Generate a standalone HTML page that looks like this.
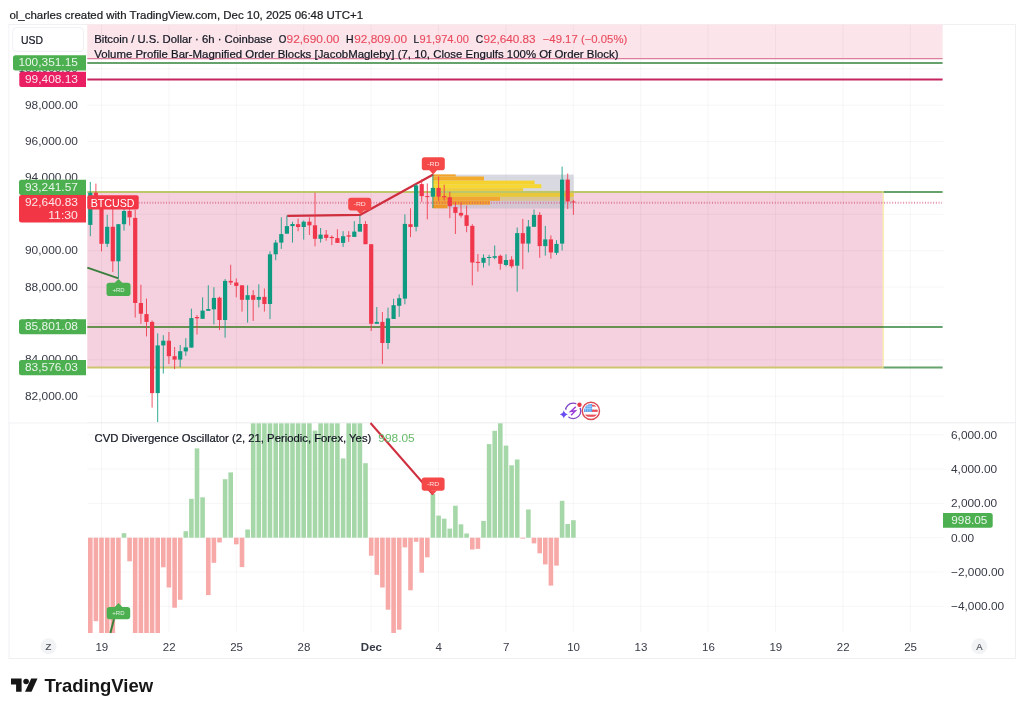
<!DOCTYPE html>
<html lang="en"><head><meta charset="utf-8"><title>BTCUSD chart</title>
<style>
html,body{margin:0;padding:0;background:#fff;overflow:hidden}
svg{display:block}
text{font-family:"Liberation Sans",sans-serif;font-size:11.5px;fill:#131722;stroke:#131722;stroke-width:.22px}
.ax{fill:#363a45;stroke:none}
.w{fill:#fff;stroke:none}
.r{fill:#e94a5d;stroke:#e94a5d;stroke-width:.12px}
</style></head><body>
<svg width="1024" height="713" viewBox="0 0 1024 713">
<rect width="1024" height="713" fill="#fff"/>
<text x="9.4" y="18.5" textLength="353.8" lengthAdjust="spacingAndGlyphs" style="fill:#1e1e1e">ol_charles created with TradingView.com, Dec 10, 2025 06:48 UTC+1</text>
<rect x="9" y="24.5" width="1006.5" height="634" fill="#fff" stroke="#f0f0f3" stroke-width="1"/>
<g id="main">
<rect x="87.3" y="24.5" width="855.3" height="34.2" fill="#fbe4ea"/>
<rect x="87.3" y="192" width="795.5" height="175.5" fill="#f5d0de"/>
<line x1="101.5" y1="25" x2="101.5" y2="632.5" stroke="rgba(42,46,57,0.045)" stroke-width="1"/>
<line x1="168.9" y1="25" x2="168.9" y2="632.5" stroke="rgba(42,46,57,0.045)" stroke-width="1"/>
<line x1="236.3" y1="25" x2="236.3" y2="632.5" stroke="rgba(42,46,57,0.045)" stroke-width="1"/>
<line x1="303.7" y1="25" x2="303.7" y2="632.5" stroke="rgba(42,46,57,0.045)" stroke-width="1"/>
<line x1="371.1" y1="25" x2="371.1" y2="632.5" stroke="rgba(42,46,57,0.045)" stroke-width="1"/>
<line x1="438.5" y1="25" x2="438.5" y2="632.5" stroke="rgba(42,46,57,0.045)" stroke-width="1"/>
<line x1="505.9" y1="25" x2="505.9" y2="632.5" stroke="rgba(42,46,57,0.045)" stroke-width="1"/>
<line x1="573.3" y1="25" x2="573.3" y2="632.5" stroke="rgba(42,46,57,0.045)" stroke-width="1"/>
<line x1="640.7" y1="25" x2="640.7" y2="632.5" stroke="rgba(42,46,57,0.045)" stroke-width="1"/>
<line x1="708.1" y1="25" x2="708.1" y2="632.5" stroke="rgba(42,46,57,0.045)" stroke-width="1"/>
<line x1="775.5" y1="25" x2="775.5" y2="632.5" stroke="rgba(42,46,57,0.045)" stroke-width="1"/>
<line x1="842.9" y1="25" x2="842.9" y2="632.5" stroke="rgba(42,46,57,0.045)" stroke-width="1"/>
<line x1="910.3" y1="25" x2="910.3" y2="632.5" stroke="rgba(42,46,57,0.045)" stroke-width="1"/>
<line x1="87.3" y1="396.2" x2="943.5" y2="396.2" stroke="rgba(42,46,57,0.045)" stroke-width="1"/>
<line x1="87.3" y1="359.8" x2="943.5" y2="359.8" stroke="rgba(42,46,57,0.045)" stroke-width="1"/>
<line x1="87.3" y1="323.4" x2="943.5" y2="323.4" stroke="rgba(42,46,57,0.045)" stroke-width="1"/>
<line x1="87.3" y1="287.1" x2="943.5" y2="287.1" stroke="rgba(42,46,57,0.045)" stroke-width="1"/>
<line x1="87.3" y1="250.7" x2="943.5" y2="250.7" stroke="rgba(42,46,57,0.045)" stroke-width="1"/>
<line x1="87.3" y1="214.3" x2="943.5" y2="214.3" stroke="rgba(42,46,57,0.045)" stroke-width="1"/>
<line x1="87.3" y1="177.9" x2="943.5" y2="177.9" stroke="rgba(42,46,57,0.045)" stroke-width="1"/>
<line x1="87.3" y1="141.6" x2="943.5" y2="141.6" stroke="rgba(42,46,57,0.045)" stroke-width="1"/>
<line x1="87.3" y1="105.2" x2="943.5" y2="105.2" stroke="rgba(42,46,57,0.045)" stroke-width="1"/>
<line x1="87.3" y1="68.8" x2="943.5" y2="68.8" stroke="rgba(42,46,57,0.045)" stroke-width="1"/>
<line x1="87.3" y1="434.8" x2="943.5" y2="434.8" stroke="rgba(42,46,57,0.045)" stroke-width="1"/>
<line x1="87.3" y1="469.1" x2="943.5" y2="469.1" stroke="rgba(42,46,57,0.045)" stroke-width="1"/>
<line x1="87.3" y1="503.4" x2="943.5" y2="503.4" stroke="rgba(42,46,57,0.045)" stroke-width="1"/>
<line x1="87.3" y1="537.7" x2="943.5" y2="537.7" stroke="rgba(42,46,57,0.045)" stroke-width="1"/>
<line x1="87.3" y1="572.0" x2="943.5" y2="572.0" stroke="rgba(42,46,57,0.045)" stroke-width="1"/>
<line x1="87.3" y1="606.3" x2="943.5" y2="606.3" stroke="rgba(42,46,57,0.045)" stroke-width="1"/>
<line x1="9" y1="422.8" x2="1015.5" y2="422.8" stroke="#ebecef" stroke-width="1"/>
<line x1="87.3" y1="58.7" x2="942.6" y2="58.7" stroke="#dc7d9b" stroke-width="1.3"/>
<line x1="87.3" y1="62.9" x2="942.6" y2="62.9" stroke="#66a26b" stroke-width="2"/>
<line x1="87.3" y1="79.6" x2="942.6" y2="79.6" stroke="#c5265f" stroke-width="2"/>
<rect x="432.5" y="174.6" width="141.2" height="33.9" fill="#b9bcc8" fill-opacity="0.55"/>
<rect x="432.8" y="174.4" width="22.9" height="2.1" fill="#f3a32c"/>
<rect x="432.8" y="176.5" width="51.2" height="4.1" fill="#f4ab2c"/>
<rect x="432.8" y="180.6" width="101.8" height="3.6" fill="#f6d22e"/>
<rect x="432.8" y="184.2" width="108.5" height="4.0" fill="#f6d733"/>
<rect x="432.8" y="188.2" width="90.2" height="2.7" fill="#efcd33"/>
<rect x="432.8" y="190.9" width="140.9" height="6.0" fill="#e8c83a"/>
<rect x="432.8" y="196.9" width="67.2" height="3.9" fill="#f0a534"/>
<rect x="432.8" y="200.8" width="57.2" height="3.9" fill="#f2a030"/>
<rect x="432.8" y="204.7" width="14.7" height="3.6" fill="#ee982a"/>
<rect x="500" y="196.9" width="73.7" height="3.9" fill="#e3c04a" fill-opacity="0.45"/>
<line x1="87.3" y1="192" x2="883.5" y2="192" stroke="#bec66c" stroke-width="2"/>
<line x1="87.3" y1="367.5" x2="883.5" y2="367.5" stroke="#cdc56f" stroke-width="2.1"/>
<line x1="883.2" y1="191" x2="883.2" y2="368.6" stroke="#f8e9a2" stroke-width="1.2"/>
<line x1="883.5" y1="192" x2="942.6" y2="192" stroke="#66a26b" stroke-width="2"/>
<line x1="87.3" y1="327" x2="883" y2="327" stroke="#68914f" stroke-width="2.2"/>
<line x1="883" y1="327" x2="942.6" y2="327" stroke="#66a26b" stroke-width="2"/>
<line x1="883.5" y1="367.5" x2="942.6" y2="367.5" stroke="#66a26b" stroke-width="2"/>
<line x1="138.7" y1="202.8" x2="942" y2="202.8" stroke="#cf4a6c" stroke-opacity="0.62" stroke-width="2" stroke-dasharray="1 1.73"/>
<polyline points="287.2,215.8 360.4,214.8 433.2,174.5" fill="none" stroke="#cf2e3e" stroke-width="2.2" stroke-linejoin="round"/>
<line x1="87.3" y1="267.6" x2="118.5" y2="278.4" stroke="#3a7f3d" stroke-width="2"/>
<line x1="90.3" y1="181.9" x2="90.3" y2="236.2" stroke="#0f9a82" stroke-width="1" stroke-opacity=".85"/><rect x="88.2" y="192.7" width="4.2" height="32.2" fill="#0f9a82"/>
<line x1="95.9" y1="183.6" x2="95.9" y2="200" stroke="#f0364a" stroke-width="1" stroke-opacity=".85"/><rect x="93.8" y="192.7" width="4.2" height="7.3" fill="#f0364a"/>
<line x1="101.5" y1="197" x2="101.5" y2="251.4" stroke="#f0364a" stroke-width="1" stroke-opacity=".85"/><rect x="99.4" y="200" width="4.2" height="43.8" fill="#f0364a"/>
<line x1="107.2" y1="214.8" x2="107.2" y2="247" stroke="#0f9a82" stroke-width="1" stroke-opacity=".85"/><rect x="105.1" y="226.8" width="4.2" height="17.0" fill="#0f9a82"/>
<line x1="112.8" y1="208" x2="112.8" y2="272" stroke="#f0364a" stroke-width="1" stroke-opacity=".85"/><rect x="110.7" y="226.8" width="4.2" height="34.5" fill="#f0364a"/>
<line x1="118.4" y1="224.2" x2="118.4" y2="278.4" stroke="#0f9a82" stroke-width="1" stroke-opacity=".85"/><rect x="116.3" y="224.2" width="4.2" height="37.1" fill="#0f9a82"/>
<line x1="124.0" y1="205" x2="124.0" y2="230.6" stroke="#0f9a82" stroke-width="1" stroke-opacity=".85"/><rect x="121.9" y="211" width="4.2" height="13.2" fill="#0f9a82"/>
<line x1="129.6" y1="205" x2="129.6" y2="225.5" stroke="#f0364a" stroke-width="1" stroke-opacity=".85"/><rect x="127.5" y="211" width="4.2" height="6.3" fill="#f0364a"/>
<line x1="135.2" y1="210" x2="135.2" y2="317.5" stroke="#f0364a" stroke-width="1" stroke-opacity=".85"/><rect x="133.1" y="217.9" width="4.2" height="85.1" fill="#f0364a"/>
<line x1="140.9" y1="284.7" x2="140.9" y2="323.8" stroke="#f0364a" stroke-width="1" stroke-opacity=".85"/><rect x="138.8" y="303" width="4.2" height="10.7" fill="#f0364a"/>
<line x1="146.5" y1="298.6" x2="146.5" y2="336.4" stroke="#f0364a" stroke-width="1" stroke-opacity=".85"/><rect x="144.4" y="314.1" width="4.2" height="7.8" fill="#f0364a"/>
<line x1="152.1" y1="320.5" x2="152.1" y2="407.6" stroke="#f0364a" stroke-width="1" stroke-opacity=".85"/><rect x="150.0" y="321.9" width="4.2" height="71.2" fill="#f0364a"/>
<line x1="157.7" y1="333.3" x2="157.7" y2="422.1" stroke="#0f9a82" stroke-width="1" stroke-opacity=".85"/><rect x="155.6" y="345.4" width="4.2" height="47.7" fill="#0f9a82"/>
<line x1="163.3" y1="335.2" x2="163.3" y2="373.5" stroke="#0f9a82" stroke-width="1" stroke-opacity=".85"/><rect x="161.2" y="340.7" width="4.2" height="4.7" fill="#0f9a82"/>
<line x1="168.9" y1="332" x2="168.9" y2="364" stroke="#f0364a" stroke-width="1" stroke-opacity=".85"/><rect x="166.8" y="340.7" width="4.2" height="15.5" fill="#f0364a"/>
<line x1="174.6" y1="347" x2="174.6" y2="369.1" stroke="#f0364a" stroke-width="1" stroke-opacity=".85"/><rect x="172.5" y="356.2" width="4.2" height="3.4" fill="#f0364a"/>
<line x1="180.2" y1="345.1" x2="180.2" y2="367.2" stroke="#0f9a82" stroke-width="1" stroke-opacity=".85"/><rect x="178.1" y="351.2" width="4.2" height="8.4" fill="#0f9a82"/>
<line x1="185.8" y1="338.2" x2="185.8" y2="355.8" stroke="#0f9a82" stroke-width="1" stroke-opacity=".85"/><rect x="183.7" y="347.4" width="4.2" height="4.0" fill="#0f9a82"/>
<line x1="191.4" y1="308.7" x2="191.4" y2="347.6" stroke="#0f9a82" stroke-width="1" stroke-opacity=".85"/><rect x="189.3" y="318.1" width="4.2" height="29.5" fill="#0f9a82"/>
<line x1="197.0" y1="315" x2="197.0" y2="334.5" stroke="#f0364a" stroke-width="1" stroke-opacity=".85"/><rect x="194.9" y="317" width="4.2" height="1.3" fill="#f0364a"/>
<line x1="202.6" y1="297.3" x2="202.6" y2="318.8" stroke="#0f9a82" stroke-width="1" stroke-opacity=".85"/><rect x="200.5" y="310.6" width="4.2" height="8.2" fill="#0f9a82"/>
<line x1="208.3" y1="285.3" x2="208.3" y2="310.8" stroke="#0f9a82" stroke-width="1" stroke-opacity=".85"/><rect x="206.2" y="309" width="4.2" height="1.8" fill="#0f9a82"/>
<line x1="213.9" y1="287.2" x2="213.9" y2="324.4" stroke="#0f9a82" stroke-width="1" stroke-opacity=".85"/><rect x="211.8" y="297.9" width="4.2" height="11.4" fill="#0f9a82"/>
<line x1="219.5" y1="296.7" x2="219.5" y2="330.1" stroke="#f0364a" stroke-width="1" stroke-opacity=".85"/><rect x="217.4" y="297.7" width="4.2" height="22.3" fill="#f0364a"/>
<line x1="225.1" y1="279" x2="225.1" y2="337.7" stroke="#0f9a82" stroke-width="1" stroke-opacity=".85"/><rect x="223.0" y="280.9" width="4.2" height="39.1" fill="#0f9a82"/>
<line x1="230.7" y1="264.8" x2="230.7" y2="285" stroke="#f0364a" stroke-width="1" stroke-opacity=".85"/><rect x="228.6" y="280.9" width="4.2" height="1.6" fill="#f0364a"/>
<line x1="236.3" y1="278.4" x2="236.3" y2="297.3" stroke="#f0364a" stroke-width="1" stroke-opacity=".85"/><rect x="234.2" y="282.5" width="4.2" height="3.4" fill="#f0364a"/>
<line x1="242.0" y1="285.3" x2="242.0" y2="311.6" stroke="#f0364a" stroke-width="1" stroke-opacity=".85"/><rect x="239.9" y="285.3" width="4.2" height="14.5" fill="#f0364a"/>
<line x1="247.6" y1="285.3" x2="247.6" y2="322.6" stroke="#0f9a82" stroke-width="1" stroke-opacity=".85"/><rect x="245.5" y="295.2" width="4.2" height="4.6" fill="#0f9a82"/>
<line x1="253.2" y1="290.1" x2="253.2" y2="320.9" stroke="#f0364a" stroke-width="1" stroke-opacity=".85"/><rect x="251.1" y="295.2" width="4.2" height="4.6" fill="#f0364a"/>
<line x1="258.8" y1="284.3" x2="258.8" y2="307.4" stroke="#0f9a82" stroke-width="1" stroke-opacity=".85"/><rect x="256.7" y="296.9" width="4.2" height="2.9" fill="#0f9a82"/>
<line x1="264.4" y1="288.5" x2="264.4" y2="311.6" stroke="#f0364a" stroke-width="1" stroke-opacity=".85"/><rect x="262.3" y="296.9" width="4.2" height="7.1" fill="#f0364a"/>
<line x1="270.0" y1="251.4" x2="270.0" y2="319.1" stroke="#0f9a82" stroke-width="1" stroke-opacity=".85"/><rect x="267.9" y="254.3" width="4.2" height="49.7" fill="#0f9a82"/>
<line x1="275.7" y1="240" x2="275.7" y2="260.2" stroke="#0f9a82" stroke-width="1" stroke-opacity=".85"/><rect x="273.6" y="242.6" width="4.2" height="11.7" fill="#0f9a82"/>
<line x1="281.3" y1="217.3" x2="281.3" y2="248.9" stroke="#0f9a82" stroke-width="1" stroke-opacity=".85"/><rect x="279.2" y="234.1" width="4.2" height="8.5" fill="#0f9a82"/>
<line x1="286.9" y1="215.4" x2="286.9" y2="233.7" stroke="#0f9a82" stroke-width="1" stroke-opacity=".85"/><rect x="284.8" y="226.1" width="4.2" height="7.6" fill="#0f9a82"/>
<line x1="292.5" y1="221.7" x2="292.5" y2="242.6" stroke="#0f9a82" stroke-width="1" stroke-opacity=".85"/><rect x="290.4" y="224" width="4.2" height="2.1" fill="#0f9a82"/>
<line x1="298.1" y1="218.6" x2="298.1" y2="231.2" stroke="#f0364a" stroke-width="1" stroke-opacity=".85"/><rect x="296.0" y="224.2" width="4.2" height="2.8" fill="#f0364a"/>
<line x1="303.7" y1="220.5" x2="303.7" y2="239.6" stroke="#0f9a82" stroke-width="1" stroke-opacity=".85"/><rect x="301.6" y="221.7" width="4.2" height="5.3" fill="#0f9a82"/>
<line x1="309.4" y1="217.3" x2="309.4" y2="235" stroke="#f0364a" stroke-width="1" stroke-opacity=".85"/><rect x="307.3" y="221.7" width="4.2" height="3.6" fill="#f0364a"/>
<line x1="315.0" y1="192.7" x2="315.0" y2="246.3" stroke="#f0364a" stroke-width="1" stroke-opacity=".85"/><rect x="312.9" y="225.3" width="4.2" height="13.5" fill="#f0364a"/>
<line x1="320.6" y1="228" x2="320.6" y2="242.6" stroke="#0f9a82" stroke-width="1" stroke-opacity=".85"/><rect x="318.5" y="234.6" width="4.2" height="4.2" fill="#0f9a82"/>
<line x1="326.2" y1="230" x2="326.2" y2="240.7" stroke="#f0364a" stroke-width="1" stroke-opacity=".85"/><rect x="324.1" y="234.6" width="4.2" height="3.3" fill="#f0364a"/>
<line x1="331.8" y1="235.4" x2="331.8" y2="245.1" stroke="#f0364a" stroke-width="1" stroke-opacity=".85"/><rect x="329.7" y="236.9" width="4.2" height="1.2" fill="#f0364a"/>
<line x1="337.4" y1="229.3" x2="337.4" y2="242.9" stroke="#f0364a" stroke-width="1" stroke-opacity=".85"/><rect x="335.3" y="238.1" width="4.2" height="4.8" fill="#f0364a"/>
<line x1="343.1" y1="231.2" x2="343.1" y2="247" stroke="#0f9a82" stroke-width="1" stroke-opacity=".85"/><rect x="341.0" y="236.2" width="4.2" height="6.7" fill="#0f9a82"/>
<line x1="348.7" y1="231.2" x2="348.7" y2="241.9" stroke="#f0364a" stroke-width="1" stroke-opacity=".85"/><rect x="346.6" y="235.4" width="4.2" height="1.2" fill="#f0364a"/>
<line x1="354.3" y1="221.1" x2="354.3" y2="236.9" stroke="#0f9a82" stroke-width="1" stroke-opacity=".85"/><rect x="352.2" y="231.6" width="4.2" height="5.3" fill="#0f9a82"/>
<line x1="359.9" y1="215.4" x2="359.9" y2="231.6" stroke="#0f9a82" stroke-width="1" stroke-opacity=".85"/><rect x="357.8" y="224" width="4.2" height="7.6" fill="#0f9a82"/>
<line x1="365.5" y1="221.1" x2="365.5" y2="244.2" stroke="#f0364a" stroke-width="1" stroke-opacity=".85"/><rect x="363.4" y="224" width="4.2" height="20.2" fill="#f0364a"/>
<line x1="371.2" y1="244.2" x2="371.2" y2="331" stroke="#f0364a" stroke-width="1" stroke-opacity=".85"/><rect x="369.1" y="244.2" width="4.2" height="79.6" fill="#f0364a"/>
<line x1="376.8" y1="307" x2="376.8" y2="323.8" stroke="#0f9a82" stroke-width="1" stroke-opacity=".85"/><rect x="374.7" y="321.9" width="4.2" height="1.9" fill="#0f9a82"/>
<line x1="382.4" y1="312.1" x2="382.4" y2="363.9" stroke="#f0364a" stroke-width="1" stroke-opacity=".85"/><rect x="380.3" y="321.9" width="4.2" height="21.1" fill="#f0364a"/>
<line x1="388.0" y1="307.7" x2="388.0" y2="349.1" stroke="#0f9a82" stroke-width="1" stroke-opacity=".85"/><rect x="385.9" y="318.4" width="4.2" height="24.6" fill="#0f9a82"/>
<line x1="393.6" y1="298.8" x2="393.6" y2="319" stroke="#0f9a82" stroke-width="1" stroke-opacity=".85"/><rect x="391.5" y="305.2" width="4.2" height="13.8" fill="#0f9a82"/>
<line x1="399.2" y1="294.4" x2="399.2" y2="316.8" stroke="#0f9a82" stroke-width="1" stroke-opacity=".85"/><rect x="397.1" y="298.2" width="4.2" height="7.6" fill="#0f9a82"/>
<line x1="404.9" y1="214.4" x2="404.9" y2="304.3" stroke="#0f9a82" stroke-width="1" stroke-opacity=".85"/><rect x="402.8" y="223.9" width="4.2" height="74.7" fill="#0f9a82"/>
<line x1="410.5" y1="208.3" x2="410.5" y2="237.1" stroke="#f0364a" stroke-width="1" stroke-opacity=".85"/><rect x="408.4" y="224.2" width="4.2" height="2.8" fill="#f0364a"/>
<line x1="416.1" y1="184.1" x2="416.1" y2="231.4" stroke="#0f9a82" stroke-width="1" stroke-opacity=".85"/><rect x="414.0" y="185.4" width="4.2" height="41.4" fill="#0f9a82"/>
<line x1="421.7" y1="179.3" x2="421.7" y2="201.8" stroke="#f0364a" stroke-width="1" stroke-opacity=".85"/><rect x="419.6" y="184.1" width="4.2" height="12.0" fill="#f0364a"/>
<line x1="427.3" y1="183.5" x2="427.3" y2="219.4" stroke="#f0364a" stroke-width="1" stroke-opacity=".85"/><rect x="425.2" y="196.1" width="4.2" height="1.0" fill="#f0364a"/>
<line x1="432.9" y1="174.6" x2="432.9" y2="208" stroke="#0f9a82" stroke-width="1" stroke-opacity=".85"/><rect x="430.8" y="187.9" width="4.2" height="8.8" fill="#0f9a82"/>
<line x1="438.6" y1="176.5" x2="438.6" y2="201.1" stroke="#f0364a" stroke-width="1" stroke-opacity=".85"/><rect x="436.5" y="187.9" width="4.2" height="8.8" fill="#f0364a"/>
<line x1="444.2" y1="184.7" x2="444.2" y2="200.5" stroke="#f0364a" stroke-width="1" stroke-opacity=".85"/><rect x="442.1" y="196.1" width="4.2" height="1.1" fill="#f0364a"/>
<line x1="449.8" y1="191.7" x2="449.8" y2="218.2" stroke="#f0364a" stroke-width="1" stroke-opacity=".85"/><rect x="447.7" y="197.3" width="4.2" height="8.9" fill="#f0364a"/>
<line x1="455.4" y1="201.8" x2="455.4" y2="234" stroke="#f0364a" stroke-width="1" stroke-opacity=".85"/><rect x="453.3" y="207.1" width="4.2" height="5.8" fill="#f0364a"/>
<line x1="461.0" y1="202.4" x2="461.0" y2="217.6" stroke="#f0364a" stroke-width="1" stroke-opacity=".85"/><rect x="458.9" y="212.9" width="4.2" height="2.6" fill="#f0364a"/>
<line x1="466.6" y1="205.6" x2="466.6" y2="232.2" stroke="#f0364a" stroke-width="1" stroke-opacity=".85"/><rect x="464.5" y="215.2" width="4.2" height="10.7" fill="#f0364a"/>
<line x1="472.3" y1="224.2" x2="472.3" y2="285.4" stroke="#f0364a" stroke-width="1" stroke-opacity=".85"/><rect x="470.2" y="225.9" width="4.2" height="36.6" fill="#f0364a"/>
<line x1="477.9" y1="254" x2="477.9" y2="271.7" stroke="#f0364a" stroke-width="1" stroke-opacity=".85"/><rect x="475.8" y="261.9" width="4.2" height="1.0" fill="#f0364a"/>
<line x1="483.5" y1="254.3" x2="483.5" y2="267.6" stroke="#0f9a82" stroke-width="1" stroke-opacity=".85"/><rect x="481.4" y="257.8" width="4.2" height="5.0" fill="#0f9a82"/>
<line x1="489.1" y1="254.9" x2="489.1" y2="265.7" stroke="#0f9a82" stroke-width="1" stroke-opacity=".85"/><rect x="487.0" y="257.0" width="4.2" height="1.0" fill="#0f9a82"/>
<line x1="494.7" y1="245.5" x2="494.7" y2="259.3" stroke="#0f9a82" stroke-width="1" stroke-opacity=".85"/><rect x="492.6" y="256.2" width="4.2" height="1.6" fill="#0f9a82"/>
<line x1="500.3" y1="254.5" x2="500.3" y2="269.7" stroke="#f0364a" stroke-width="1" stroke-opacity=".85"/><rect x="498.2" y="255.8" width="4.2" height="8.0" fill="#f0364a"/>
<line x1="506.0" y1="254.3" x2="506.0" y2="266.3" stroke="#0f9a82" stroke-width="1" stroke-opacity=".85"/><rect x="503.9" y="260" width="4.2" height="5.0" fill="#0f9a82"/>
<line x1="511.6" y1="256.2" x2="511.6" y2="268.2" stroke="#f0364a" stroke-width="1" stroke-opacity=".85"/><rect x="509.5" y="259.6" width="4.2" height="6.7" fill="#f0364a"/>
<line x1="517.2" y1="227.5" x2="517.2" y2="291.7" stroke="#0f9a82" stroke-width="1" stroke-opacity=".85"/><rect x="515.1" y="233.1" width="4.2" height="32.6" fill="#0f9a82"/>
<line x1="522.8" y1="218.9" x2="522.8" y2="269.2" stroke="#f0364a" stroke-width="1" stroke-opacity=".85"/><rect x="520.7" y="233.1" width="4.2" height="10.5" fill="#f0364a"/>
<line x1="528.4" y1="220" x2="528.4" y2="252.4" stroke="#0f9a82" stroke-width="1" stroke-opacity=".85"/><rect x="526.3" y="226.5" width="4.2" height="17.1" fill="#0f9a82"/>
<line x1="534.0" y1="209.5" x2="534.0" y2="226.8" stroke="#0f9a82" stroke-width="1" stroke-opacity=".85"/><rect x="531.9" y="214.9" width="4.2" height="11.9" fill="#0f9a82"/>
<line x1="539.7" y1="212" x2="539.7" y2="257.8" stroke="#f0364a" stroke-width="1" stroke-opacity=".85"/><rect x="537.6" y="214.9" width="4.2" height="31.2" fill="#f0364a"/>
<line x1="545.3" y1="225.9" x2="545.3" y2="255.6" stroke="#0f9a82" stroke-width="1" stroke-opacity=".85"/><rect x="543.2" y="239.4" width="4.2" height="6.7" fill="#0f9a82"/>
<line x1="550.9" y1="235.4" x2="550.9" y2="258.7" stroke="#f0364a" stroke-width="1" stroke-opacity=".85"/><rect x="548.8" y="239.4" width="4.2" height="13.0" fill="#f0364a"/>
<line x1="556.5" y1="240.2" x2="556.5" y2="254.9" stroke="#0f9a82" stroke-width="1" stroke-opacity=".85"/><rect x="554.4" y="243.9" width="4.2" height="8.9" fill="#0f9a82"/>
<line x1="562.1" y1="166.6" x2="562.1" y2="250.5" stroke="#0f9a82" stroke-width="1" stroke-opacity=".85"/><rect x="560.0" y="179.6" width="4.2" height="64.0" fill="#0f9a82"/>
<line x1="567.7" y1="173.6" x2="567.7" y2="209" stroke="#f0364a" stroke-width="1" stroke-opacity=".85"/><rect x="565.6" y="179.6" width="4.2" height="21.9" fill="#f0364a"/>
<line x1="573.4" y1="199.9" x2="573.4" y2="214.8" stroke="#f0364a" stroke-width="1" stroke-opacity=".85"/><rect x="571.3" y="201.5" width="4.2" height="1.0" fill="#f0364a"/>
<rect x="348.2" y="197.7" width="23.0" height="12.7" rx="2.8" fill="#f54848"/><path d="M356.4 210.1 L360.4 214.5 L364.4 210.1 Z" fill="#f54848"/><text x="353.6" y="206.2" textLength="12.2" lengthAdjust="spacingAndGlyphs" style="font-size:5.9px;fill:#fff;fill-opacity:.85;stroke:none">-RD</text>
<rect x="421.8" y="157.3" width="23.0" height="12.9" rx="2.8" fill="#f54848"/><path d="M429.2 169.89999999999998 L433.2 174.5 L437.2 169.89999999999998 Z" fill="#f54848"/><text x="427.2" y="165.8" textLength="12.2" lengthAdjust="spacingAndGlyphs" style="font-size:5.9px;fill:#fff;fill-opacity:.85;stroke:none">-RD</text>
<rect x="106.5" y="282.8" width="24.0" height="13.2" rx="2.8" fill="#4caf50"/><path d="M114.5 283.1 L118.5 279 L122.5 283.1 Z" fill="#4caf50"/><text x="112.4" y="291.5" textLength="12.2" lengthAdjust="spacingAndGlyphs" style="font-size:5.9px;fill:#fff;fill-opacity:.85;stroke:none">+RD</text>
<rect x="87.3" y="195.2" width="51.4" height="14.2" rx="2" fill="#f23645"/>
<text x="90.7" y="206.6" textLength="43.8" lengthAdjust="spacingAndGlyphs" class="w">BTCUSD</text>
<g id="icons"><circle cx="573.1" cy="410.9" r="7.7" fill="#fff" stroke="#8246c4" stroke-width="1.3"/><polyline points="575.8,406.8 570.8,411.4 575.4,410.8 571.1,415.3" fill="none" stroke="#9a3fd8" stroke-width="1.5" stroke-linejoin="miter"/><circle cx="563.8" cy="414.4" r="5.2" fill="#fff"/><path d="M563.8 410.3 Q564.5 413.7 567.9 414.4 Q564.5 415.1 563.8 418.5 Q563.1 415.1 559.7 414.4 Q563.1 413.7 563.8 410.3 Z" fill="#6a4cf3"/><circle cx="579.5" cy="404.7" r="3.3" fill="#fff"/><circle cx="579.5" cy="404.7" r="2.2" fill="#e63946"/><circle cx="590.9" cy="410.9" r="8.6" fill="#fff" stroke="#dc4a54" stroke-width="1.4"/><clipPath id="fc"><circle cx="590.9" cy="410.9" r="6.9"/></clipPath><g clip-path="url(#fc)"><rect x="583" y="403" width="16" height="16" fill="#fff"/><rect x="583" y="404.6" width="16" height="2.0" fill="#e8505b"/><rect x="583" y="409.6" width="16" height="2.3" fill="#e8505b"/><rect x="583" y="414.6" width="16" height="2.2" fill="#e8505b"/><rect x="583" y="403" width="9.1" height="8.9" fill="#55a5f6"/><line x1="585.6" y1="403" x2="585.6" y2="411.9" stroke="#cfe6ff" stroke-width="0.5"/><line x1="587.8" y1="403" x2="587.8" y2="411.9" stroke="#cfe6ff" stroke-width="0.5"/><line x1="590.0" y1="403" x2="590.0" y2="411.9" stroke="#cfe6ff" stroke-width="0.5"/><line x1="583" y1="406.2" x2="592.1" y2="406.2" stroke="#cfe6ff" stroke-width="0.5"/><line x1="583" y1="408.6" x2="592.1" y2="408.6" stroke="#cfe6ff" stroke-width="0.5"/></g></g>
</g>
<g id="osc">
<rect x="88.0" y="537.7" width="4.6" height="95.3" fill="#f7a9a8"/><rect x="93.6" y="537.7" width="4.6" height="83.5" fill="#f7a9a8"/><rect x="99.2" y="537.7" width="4.6" height="95.3" fill="#f7a9a8"/><rect x="104.9" y="537.7" width="4.6" height="95.3" fill="#f7a9a8"/><rect x="110.5" y="537.7" width="4.6" height="95.3" fill="#f7a9a8"/><rect x="116.1" y="537.7" width="4.6" height="77.3" fill="#f7a9a8"/><rect x="121.7" y="533.2" width="4.6" height="4.5" fill="#a6d7a8"/><rect x="127.3" y="537.7" width="4.6" height="23.6" fill="#f7a9a8"/><rect x="132.9" y="537.7" width="4.6" height="95.3" fill="#f7a9a8"/><rect x="138.6" y="537.7" width="4.6" height="95.3" fill="#f7a9a8"/><rect x="144.2" y="537.7" width="4.6" height="95.3" fill="#f7a9a8"/><rect x="149.8" y="537.7" width="4.6" height="95.3" fill="#f7a9a8"/><rect x="155.4" y="537.7" width="4.6" height="95.3" fill="#f7a9a8"/><rect x="161.0" y="537.7" width="4.6" height="29.6" fill="#f7a9a8"/><rect x="166.6" y="537.7" width="4.6" height="49.8" fill="#f7a9a8"/><rect x="172.3" y="537.7" width="4.6" height="70.0" fill="#f7a9a8"/><rect x="177.9" y="537.7" width="4.6" height="62.1" fill="#f7a9a8"/><rect x="183.5" y="531.2" width="4.6" height="6.5" fill="#a6d7a8"/><rect x="189.1" y="498.8" width="4.6" height="38.9" fill="#a6d7a8"/><rect x="194.7" y="448.4" width="4.6" height="89.3" fill="#a6d7a8"/><rect x="200.3" y="497.3" width="4.6" height="40.4" fill="#a6d7a8"/><rect x="206.0" y="537.7" width="4.6" height="57.4" fill="#f7a9a8"/><rect x="211.6" y="537.7" width="4.6" height="25.1" fill="#f7a9a8"/><rect x="217.2" y="537.7" width="4.6" height="4.8" fill="#f7a9a8"/><rect x="222.8" y="479.2" width="4.6" height="58.5" fill="#a6d7a8"/><rect x="228.4" y="472.4" width="4.6" height="65.3" fill="#a6d7a8"/><rect x="234.0" y="537.7" width="4.6" height="6.6" fill="#f7a9a8"/><rect x="239.7" y="537.7" width="4.6" height="29.4" fill="#f7a9a8"/><rect x="245.3" y="529.5" width="4.6" height="8.2" fill="#a6d7a8"/><rect x="250.9" y="423.3" width="4.6" height="114.4" fill="#a6d7a8"/><rect x="256.5" y="423.3" width="4.6" height="114.4" fill="#a6d7a8"/><rect x="262.1" y="423.3" width="4.6" height="114.4" fill="#a6d7a8"/><rect x="267.7" y="423.3" width="4.6" height="114.4" fill="#a6d7a8"/><rect x="273.4" y="423.3" width="4.6" height="114.4" fill="#a6d7a8"/><rect x="279.0" y="423.3" width="4.6" height="114.4" fill="#a6d7a8"/><rect x="284.6" y="423.3" width="4.6" height="114.4" fill="#a6d7a8"/><rect x="290.2" y="423.3" width="4.6" height="114.4" fill="#a6d7a8"/><rect x="295.8" y="423.3" width="4.6" height="114.4" fill="#a6d7a8"/><rect x="301.4" y="423.3" width="4.6" height="114.4" fill="#a6d7a8"/><rect x="307.1" y="423.3" width="4.6" height="114.4" fill="#a6d7a8"/><rect x="312.7" y="430.6" width="4.6" height="107.1" fill="#a6d7a8"/><rect x="318.3" y="423.3" width="4.6" height="114.4" fill="#a6d7a8"/><rect x="323.9" y="423.3" width="4.6" height="114.4" fill="#a6d7a8"/><rect x="329.5" y="423.3" width="4.6" height="114.4" fill="#a6d7a8"/><rect x="335.1" y="423.3" width="4.6" height="114.4" fill="#a6d7a8"/><rect x="340.8" y="458.4" width="4.6" height="79.3" fill="#a6d7a8"/><rect x="346.4" y="423.3" width="4.6" height="114.4" fill="#a6d7a8"/><rect x="352.0" y="423.3" width="4.6" height="114.4" fill="#a6d7a8"/><rect x="357.6" y="423.3" width="4.6" height="114.4" fill="#a6d7a8"/><rect x="363.2" y="463.2" width="4.6" height="74.5" fill="#a6d7a8"/><rect x="368.9" y="537.7" width="4.6" height="18.0" fill="#f7a9a8"/><rect x="374.5" y="537.7" width="4.6" height="37.1" fill="#f7a9a8"/><rect x="380.1" y="537.7" width="4.6" height="49.8" fill="#f7a9a8"/><rect x="385.7" y="537.7" width="4.6" height="72.0" fill="#f7a9a8"/><rect x="391.3" y="537.7" width="4.6" height="95.3" fill="#f7a9a8"/><rect x="396.9" y="537.7" width="4.6" height="92.0" fill="#f7a9a8"/><rect x="402.6" y="537.7" width="4.6" height="9.7" fill="#f7a9a8"/><rect x="408.2" y="537.7" width="4.6" height="52.6" fill="#f7a9a8"/><rect x="413.8" y="537.7" width="4.6" height="4.1" fill="#f7a9a8"/><rect x="419.4" y="537.7" width="4.6" height="35.0" fill="#f7a9a8"/><rect x="425.0" y="537.7" width="4.6" height="19.6" fill="#f7a9a8"/><rect x="430.6" y="494" width="4.6" height="43.7" fill="#a6d7a8"/><rect x="436.3" y="515.6" width="4.6" height="22.1" fill="#a6d7a8"/><rect x="441.9" y="518.7" width="4.6" height="19.0" fill="#a6d7a8"/><rect x="447.5" y="528.6" width="4.6" height="9.1" fill="#a6d7a8"/><rect x="453.1" y="505.7" width="4.6" height="32.0" fill="#a6d7a8"/><rect x="458.7" y="524.3" width="4.6" height="13.4" fill="#a6d7a8"/><rect x="464.3" y="533.5" width="4.6" height="4.2" fill="#a6d7a8"/><rect x="470.0" y="537.7" width="4.6" height="11.8" fill="#f7a9a8"/><rect x="475.6" y="537.7" width="4.6" height="11.2" fill="#f7a9a8"/><rect x="481.2" y="520.9" width="4.6" height="16.8" fill="#a6d7a8"/><rect x="486.8" y="444.1" width="4.6" height="93.6" fill="#a6d7a8"/><rect x="492.4" y="430.8" width="4.6" height="106.9" fill="#a6d7a8"/><rect x="498.0" y="423.3" width="4.6" height="114.4" fill="#a6d7a8"/><rect x="503.7" y="445.6" width="4.6" height="92.1" fill="#a6d7a8"/><rect x="509.3" y="465.3" width="4.6" height="72.4" fill="#a6d7a8"/><rect x="514.9" y="459.5" width="4.6" height="78.2" fill="#a6d7a8"/><rect x="520.5" y="537.7" width="4.6" height="0.9" fill="#f7a9a8"/><rect x="526.1" y="509.5" width="4.6" height="28.2" fill="#a6d7a8"/><rect x="531.7" y="537.7" width="4.6" height="5.7" fill="#f7a9a8"/><rect x="537.4" y="537.7" width="4.6" height="15.6" fill="#f7a9a8"/><rect x="543.0" y="537.7" width="4.6" height="26.7" fill="#f7a9a8"/><rect x="548.6" y="537.7" width="4.6" height="47.9" fill="#f7a9a8"/><rect x="554.2" y="537.7" width="4.6" height="27.9" fill="#f7a9a8"/><rect x="559.8" y="500.8" width="4.6" height="36.9" fill="#a6d7a8"/><rect x="565.4" y="524" width="4.6" height="13.7" fill="#a6d7a8"/><rect x="571.1" y="520.2" width="4.6" height="17.5" fill="#a6d7a8"/>
<line x1="370.5" y1="423" x2="433" y2="494.5" stroke="#cf2e3e" stroke-width="2"/>
<line x1="114" y1="619" x2="110.4" y2="633" stroke="#3a7f3d" stroke-width="2"/>
<rect x="421.7" y="477.6" width="22.9" height="13.2" rx="2.8" fill="#f54848"/><path d="M429 490.5 L433 494.8 L437 490.5 Z" fill="#f54848"/><text x="427.0" y="486.3" textLength="12.2" lengthAdjust="spacingAndGlyphs" style="font-size:5.9px;fill:#fff;fill-opacity:.85;stroke:none">-RD</text>
<rect x="106.7" y="607" width="23.5" height="12.3" rx="2.8" fill="#4caf50"/><path d="M114.5 607.3 L118.5 603 L122.5 607.3 Z" fill="#4caf50"/><text x="112.3" y="615.2" textLength="12.2" lengthAdjust="spacingAndGlyphs" style="font-size:5.9px;fill:#fff;fill-opacity:.85;stroke:none">+RD</text>
<text x="94.6" y="442.4" textLength="276.7" lengthAdjust="spacingAndGlyphs">CVD Divergence Oscillator (2, 21, Periodic, Forex, Yes)</text>
<text x="378.3" y="442.4" textLength="36.4" lengthAdjust="spacingAndGlyphs" style="fill:#66bb6a;stroke:none">998.05</text>
</g>
<g id="legend">
<text x="94.2" y="43.0" textLength="178.0" lengthAdjust="spacingAndGlyphs">Bitcoin / U.S. Dollar · 6h · Coinbase</text>
<text x="278.8" y="43.0" textLength="7.6" lengthAdjust="spacingAndGlyphs">O</text>
<text x="286.6" y="43.0" textLength="52.8" lengthAdjust="spacingAndGlyphs" class="r">92,690.00</text>
<text x="346" y="43.0" textLength="7.6" lengthAdjust="spacingAndGlyphs">H</text>
<text x="354.2" y="43.0" textLength="52.8" lengthAdjust="spacingAndGlyphs" class="r">92,809.00</text>
<text x="413.5" y="43.0" textLength="5.6" lengthAdjust="spacingAndGlyphs">L</text>
<text x="419.6" y="43.0" textLength="49.3" lengthAdjust="spacingAndGlyphs" class="r">91,974.00</text>
<text x="475.7" y="43.0" textLength="7.4" lengthAdjust="spacingAndGlyphs">C</text>
<text x="483.4" y="43.0" textLength="52.2" lengthAdjust="spacingAndGlyphs" class="r">92,640.83</text>
<text x="542.7" y="43.0" textLength="84.6" lengthAdjust="spacingAndGlyphs" class="r">−49.17 (−0.05%)</text>
<text x="94.2" y="58.4" textLength="524.4" lengthAdjust="spacingAndGlyphs">Volume Profile Bar-Magnified Order Blocks [JacobMagleby] (7, 10, Close Engulfs 100% Of Order Block)</text>
</g>
<g id="paxis">
<rect x="9.5" y="25" width="77.5" height="397.5" fill="#fff"/>
<rect x="12.7" y="27.7" width="70.8" height="23.9" rx="3.5" fill="#fff" stroke="#f0f1f4" stroke-width="1"/>
<text x="21" y="43.6" textLength="22.0" lengthAdjust="spacingAndGlyphs">USD</text>
<text x="25.0" y="399.7" textLength="52.9" lengthAdjust="spacingAndGlyphs" class="ax">82,000.00</text>
<text x="25.0" y="363.3" textLength="52.9" lengthAdjust="spacingAndGlyphs" class="ax">84,000.00</text>
<text x="25.0" y="326.9" textLength="52.9" lengthAdjust="spacingAndGlyphs" class="ax">86,000.00</text>
<text x="25.0" y="290.6" textLength="52.9" lengthAdjust="spacingAndGlyphs" class="ax">88,000.00</text>
<text x="25.0" y="254.2" textLength="52.9" lengthAdjust="spacingAndGlyphs" class="ax">90,000.00</text>
<text x="25.0" y="217.8" textLength="52.9" lengthAdjust="spacingAndGlyphs" class="ax">92,000.00</text>
<text x="25.0" y="181.4" textLength="52.9" lengthAdjust="spacingAndGlyphs" class="ax">94,000.00</text>
<text x="25.0" y="145.1" textLength="52.9" lengthAdjust="spacingAndGlyphs" class="ax">96,000.00</text>
<text x="25.0" y="108.7" textLength="52.9" lengthAdjust="spacingAndGlyphs" class="ax">98,000.00</text>
<text x="18.4" y="72.3" textLength="59.5" lengthAdjust="spacingAndGlyphs" class="ax">100,000.00</text>
<path d="M15.5 55.3 H86 V70.5 H15.5 Q13 70.5 13 68.0 V57.8 Q13 55.3 15.5 55.3 Z" fill="#4caf50"/><text x="18.4" y="66.1" textLength="59.5" lengthAdjust="spacingAndGlyphs" style="fill:#fff;fill-opacity:.88;stroke:none">100,351.15</text>
<path d="M21.8 71.7 H86 V86.9 H21.8 Q19.3 86.9 19.3 84.4 V74.2 Q19.3 71.7 21.8 71.7 Z" fill="#e91e63"/><text x="25.0" y="83.0" textLength="52.9" lengthAdjust="spacingAndGlyphs" style="fill:#fff;fill-opacity:.88;stroke:none">99,408.13</text>
<path d="M21.5 179.8 H86 V195.1 H21.5 Q19 195.1 19 192.6 V182.3 Q19 179.8 21.5 179.8 Z" fill="#4caf50"/><text x="25.0" y="191.0" textLength="52.9" lengthAdjust="spacingAndGlyphs" style="fill:#fff;fill-opacity:.88;stroke:none">93,241.57</text>
<path d="M21.5 195.1 H86 V222.6 H21.5 Q19 222.6 19 220.1 V197.6 Q19 195.1 21.5 195.1 Z" fill="#f23645"/><text x="25.0" y="206.3" textLength="52.9" lengthAdjust="spacingAndGlyphs" style="fill:#fff;fill-opacity:.88;stroke:none">92,640.83</text><text x="48.2" y="219.0" textLength="29.7" lengthAdjust="spacingAndGlyphs" style="fill:#fff;fill-opacity:.88;stroke:none">11:30</text>
<path d="M21.5 319.3 H86 V334.3 H21.5 Q19 334.3 19 331.8 V321.8 Q19 319.3 21.5 319.3 Z" fill="#4caf50"/><text x="25.0" y="330.4" textLength="52.9" lengthAdjust="spacingAndGlyphs" style="fill:#fff;fill-opacity:.88;stroke:none">85,801.08</text>
<path d="M21.5 360.1 H86 V375.3 H21.5 Q19 375.3 19 372.8 V362.6 Q19 360.1 21.5 360.1 Z" fill="#4caf50"/><text x="25.0" y="371.3" textLength="52.9" lengthAdjust="spacingAndGlyphs" style="fill:#fff;fill-opacity:.88;stroke:none">83,576.03</text>
</g>
<g id="raxis">
<text x="951" y="438.6" textLength="46.2" lengthAdjust="spacingAndGlyphs" class="ax">6,000.00</text>
<text x="951" y="472.9" textLength="46.2" lengthAdjust="spacingAndGlyphs" class="ax">4,000.00</text>
<text x="951" y="507.2" textLength="46.2" lengthAdjust="spacingAndGlyphs" class="ax">2,000.00</text>
<text x="951" y="541.5" textLength="23.1" lengthAdjust="spacingAndGlyphs" class="ax">0.00</text>
<text x="951" y="575.8" textLength="53.2" lengthAdjust="spacingAndGlyphs" class="ax">−2,000.00</text>
<text x="951" y="610.1" textLength="53.2" lengthAdjust="spacingAndGlyphs" class="ax">−4,000.00</text>
<path d="M943 513 H990.2 Q992.7 513 992.7 515.5 V525.2 Q992.7 527.7 990.2 527.7 H943 Z" fill="#4caf50"/><text x="951.3" y="524.4" textLength="36" lengthAdjust="spacingAndGlyphs" style="fill:#fff;fill-opacity:.88;stroke:none">998.05</text>
</g>
<g id="taxis">
<text x="101.8" y="650.7" text-anchor="middle" class="ax">19</text>
<text x="169.2" y="650.7" text-anchor="middle" class="ax">22</text>
<text x="236.6" y="650.7" text-anchor="middle" class="ax">25</text>
<text x="304.0" y="650.7" text-anchor="middle" class="ax">28</text>
<text x="371.4" y="650.7" text-anchor="middle" class="ax" style="font-weight:bold">Dec</text>
<text x="438.8" y="650.7" text-anchor="middle" class="ax">4</text>
<text x="506.2" y="650.7" text-anchor="middle" class="ax">7</text>
<text x="573.6" y="650.7" text-anchor="middle" class="ax">10</text>
<text x="641.0" y="650.7" text-anchor="middle" class="ax">13</text>
<text x="708.4" y="650.7" text-anchor="middle" class="ax">16</text>
<text x="775.8" y="650.7" text-anchor="middle" class="ax">19</text>
<text x="843.2" y="650.7" text-anchor="middle" class="ax">22</text>
<text x="910.6" y="650.7" text-anchor="middle" class="ax">25</text>
<circle cx="48.5" cy="646.3" r="8" fill="#f2f3f5"/><text x="48.5" y="649.7" text-anchor="middle" style="font-size:9.5px;fill:#4a4d57;stroke:#4a4d57;stroke-width:.15px">Z</text>
<circle cx="979.3" cy="646.3" r="8" fill="#f2f3f5"/><text x="979.3" y="649.7" text-anchor="middle" style="font-size:9.5px;fill:#4a4d57;stroke:#4a4d57;stroke-width:.15px">A</text>
</g>
<g id="logo">
<path d="M11 678.6 H21.6 V691.8 H16.1 V684.5 H11 Z" fill="#161616"/><circle cx="26.1" cy="681.5" r="2.8" fill="#161616"/><path d="M31.2 678.6 H37.5 L31.5 691.8 H25 Z" fill="#161616"/>
<text x="44.5" y="691.6" textLength="108.7" lengthAdjust="spacingAndGlyphs" style="font-size:17.8px;font-weight:bold;fill:#161616;stroke:none">TradingView</text>
</g>
</svg>
</body></html>
